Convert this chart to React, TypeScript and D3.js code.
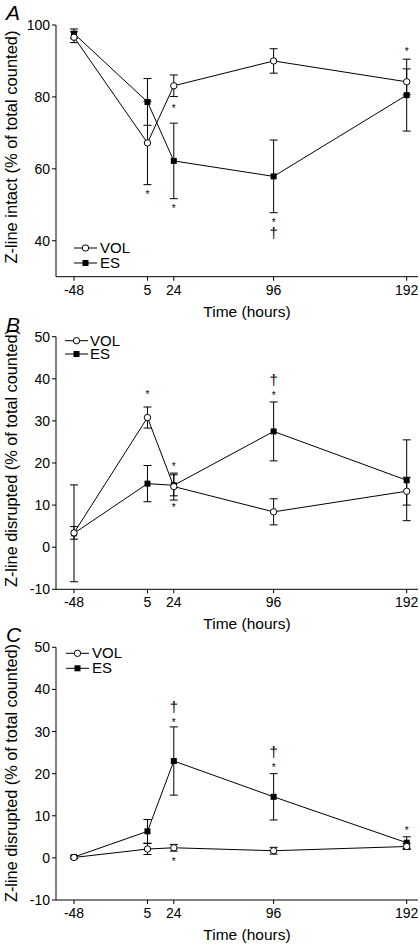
import React from "react";
import * as d3 from "d3";

const times = [-48, 5, 24, 96, 192];
const xTickLabels = ["-48", "5", "24", "96", "192"];

const aVolMean = [96.6, 67.2, 83.1, 90.0, 84.2];
const aVolErr = [1.5, 11.6, 3.0, 3.4, 3.6];
const aEsMean = [97.6, 78.6, 62.2, 57.9, 80.5];
const aEsErr = [1.3, 6.5, 10.5, 10.1, 10.0];

const bVolMean = [3.4, 30.8, 14.4, 8.4, 13.3];
const bVolErr = [1.5, 2.5, 3.2, 3.1, 3.3];
const bEsMean = [3.3, 15.1, 14.7, 27.5, 15.9];
const bEsErr = [11.5, 4.3, 2.5, 7.0, 9.6];

const cVolMean = [0.1, 2.1, 2.4, 1.7, 2.7];
const cVolErr = [0.3, 1.3, 0.8, 0.8, 0.7];
const cEsMean = [0.2, 6.3, 23.0, 14.5, 3.6];
const cEsErr = [0.3, 2.8, 8.1, 5.5, 1.4];

const aTicks = [40, 60, 80, 100];
const bcTicks = [-10, 0, 10, 20, 30, 40, 50];

// significance marks: [symbol, time, value at glyph centre]
const aMarks: [string, number, number][] = [
  ["*", 5, 53.4], ["*", 24, 77.3], ["*", 24, 49.7], ["*", 96, 45.8], ["†", 96, 42.0], ["*", 192, 93.4],
];
const bMarks: [string, number, number][] = [
  ["*", 5, 36.7], ["*", 24, 19.8], ["*", 24, 10.0], ["*", 96, 36.6], ["†", 96, 39.7],
];
const cMarks: [string, number, number][] = [
  ["*", 24, 32.6], ["†", 24, 35.8], ["*", 24, -0.2], ["*", 96, 21.9], ["†", 96, 25.1], ["*", 192, 7.1],
];

const seriesNames = ["VOL", "ES"];

const FONT = "'Liberation Sans', Arial, Helvetica, sans-serif";

type PanelProps = {
  letter: string;
  yLabel: string;
  yLabelLen: number;
  yLabelMid: number;
  yDomain: [number, number];
  top: number;
  bottom: number;
  ticks: number[];
  vol: number[];
  volErr: number[];
  es: number[];
  esErr: number[];
  marks: [string, number, number][];
  legend: { x0: number; x1: number; tx: number; y0: number; y1: number };
};

const xScale = d3.scaleLinear().domain([-48, 192]).range([74, 406.7]);
const AXIS_X = 56;
const AXIS_RIGHT = 418;

function Panel(p: PanelProps) {
  const y = d3.scaleLinear().domain(p.yDomain).range([p.bottom, p.top]);
  const line = d3
    .line<number>()
    .x((_, i) => xScale(times[i]))
    .y((v) => y(v));
  const cap = 4;
  const errBars = (m: number[], e: number[], key: string) =>
    m.map((v, i) => {
      const x = xScale(times[i]);
      return (
        <g key={key + i} stroke="#000" strokeWidth={1}>
          <line x1={x} x2={x} y1={y(v - e[i])} y2={y(v + e[i])} />
          <line x1={x - cap} x2={x + cap} y1={y(v - e[i])} y2={y(v - e[i])} />
          <line x1={x - cap} x2={x + cap} y1={y(v + e[i])} y2={y(v + e[i])} />
        </g>
      );
    });
  const sq = 6;
  const lg = p.legend;
  return (
    <g fontFamily={FONT} fill="#000">
      <text x={6} y={p.top - 5} fontSize={21} fontStyle="italic">
        {p.letter}
      </text>
      {/* axes */}
      <line x1={AXIS_X} x2={AXIS_X} y1={p.top} y2={p.bottom} stroke="#000" />
      <line x1={AXIS_X} x2={AXIS_RIGHT} y1={p.bottom} y2={p.bottom} stroke="#000" />
      {p.ticks.map((t) => (
        <g key={"yt" + t}>
          <line x1={AXIS_X - 4} x2={AXIS_X} y1={y(t)} y2={y(t)} stroke="#000" />
          <text x={AXIS_X - 6} y={y(t) + 5} fontSize={14} textAnchor="end">
            {t}
          </text>
        </g>
      ))}
      {times.map((t, i) => (
        <g key={"xt" + t}>
          <line x1={xScale(t)} x2={xScale(t)} y1={p.bottom} y2={p.bottom + 4} stroke="#000" />
          <text x={xScale(t)} y={p.bottom + 18} fontSize={14} textAnchor="middle">
            {xTickLabels[i]}
          </text>
        </g>
      ))}
      <text x={(AXIS_X + AXIS_RIGHT) / 2 + 10} y={p.bottom + 40} fontSize={15.5} textAnchor="middle">
        Time (hours)
      </text>
      <text
        transform={`translate(17,${p.yLabelMid}) rotate(-90)`}
        fontSize={16}
        textAnchor="middle"
        textLength={p.yLabelLen}
        lengthAdjust="spacingAndGlyphs"
      >
        {p.yLabel}
      </text>
      {/* lines */}
      <path d={line(p.vol) || ""} fill="none" stroke="#000" strokeWidth={1} />
      <path d={line(p.es) || ""} fill="none" stroke="#000" strokeWidth={1} />
      {errBars(p.vol, p.volErr, "ve")}
      {errBars(p.es, p.esErr, "ee")}
      {p.es.map((v, i) => (
        <rect key={"es" + i} x={xScale(times[i]) - sq / 2} y={y(v) - sq / 2} width={sq} height={sq} fill="#000" />
      ))}
      {p.vol.map((v, i) => (
        <circle key={"vo" + i} cx={xScale(times[i])} cy={y(v)} r={3.2} fill="#fff" stroke="#000" strokeWidth={1} />
      ))}
      {p.marks.map(([s, t, v], i) =>
        s === "*" ? (
          <text key={"m" + i} x={xScale(t)} y={y(v) + 5.8} fontSize={10} textAnchor="middle">
            *
          </text>
        ) : (
          <text key={"m" + i} x={xScale(t)} y={y(v) + 4.5} fontSize={15} textAnchor="middle">
            †
          </text>
        )
      )}
      {/* legend */}
      <line x1={lg.x0} x2={lg.x1} y1={lg.y0} y2={lg.y0} stroke="#000" />
      <circle cx={(lg.x0 + lg.x1) / 2} cy={lg.y0} r={3.2} fill="#fff" stroke="#000" />
      <text x={lg.tx} y={lg.y0 + 5} fontSize={15}>
        {seriesNames[0]}
      </text>
      <line x1={lg.x0} x2={lg.x1} y1={lg.y1} y2={lg.y1} stroke="#000" />
      <rect x={(lg.x0 + lg.x1) / 2 - sq / 2} y={lg.y1 - sq / 2} width={sq} height={sq} fill="#000" />
      <text x={lg.tx} y={lg.y1 + 5} fontSize={15}>
        {seriesNames[1]}
      </text>
    </g>
  );
}

export default function App() {
  return (
    <svg
      width={420}
      height={945}
      style={{ position: "absolute", left: 0, top: 0, background: "#fff" }}
    >
      <rect width={420} height={945} fill="#fff" />
      <Panel
        letter="A"
        yLabel="Z-line intact (% of total counted)"
        yLabelLen={233}
        yLabelMid={147}
        yDomain={[30, 100]}
        top={25}
        bottom={276.7}
        ticks={aTicks}
        vol={aVolMean}
        volErr={aVolErr}
        es={aEsMean}
        esErr={aEsErr}
        marks={aMarks}
        legend={{ x0: 74, x1: 97, tx: 100, y0: 248, y1: 263 }}
      />
      <Panel
        letter="B"
        yLabel="Z-line disrupted (% of total counted)"
        yLabelLen={258}
        yLabelMid={458}
        yDomain={[-10, 50]}
        top={336.7}
        bottom={589.3}
        ticks={bcTicks}
        vol={bVolMean}
        volErr={bVolErr}
        es={bEsMean}
        esErr={bEsErr}
        marks={bMarks}
        legend={{ x0: 65, x1: 88, tx: 90, y0: 340.7, y1: 354 }}
      />
      <Panel
        letter="C"
        yLabel="Z-line disrupted (% of total counted)"
        yLabelLen={258}
        yLabelMid={773}
        yDomain={[-10, 50]}
        top={647.3}
        bottom={900}
        ticks={bcTicks}
        vol={cVolMean}
        volErr={cVolErr}
        es={cEsMean}
        esErr={cEsErr}
        marks={cMarks}
        legend={{ x0: 66, x1: 89, tx: 92, y0: 653.3, y1: 668.3 }}
      />
    </svg>
  );
}
